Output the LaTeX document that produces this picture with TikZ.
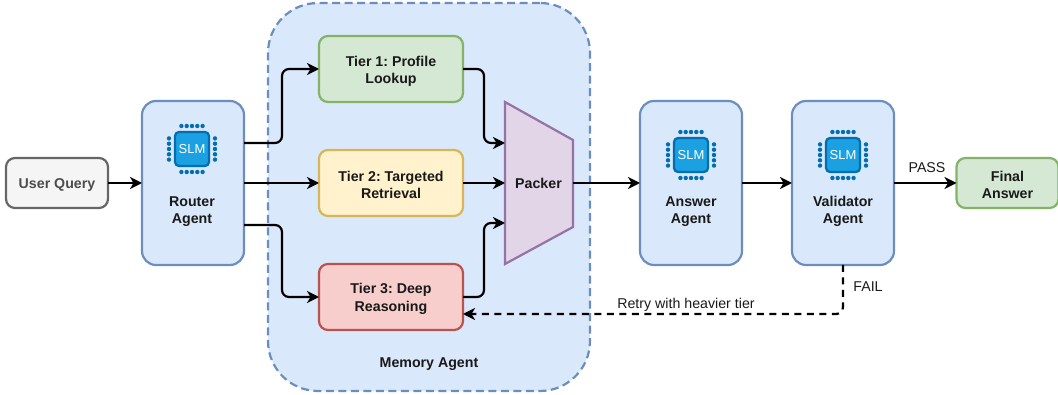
\documentclass[tikz,border=0pt]{standalone}
\usepackage{fontspec}
\setmainfont{Liberation Sans}
\usetikzlibrary{arrows.meta}
\definecolor{blueF}{HTML}{DAE8FC}\definecolor{blueD}{HTML}{6C8EBF}
\definecolor{greenF}{HTML}{D5E8D4}\definecolor{greenD}{HTML}{82B366}
\definecolor{yelF}{HTML}{FFF2CC}\definecolor{yelD}{HTML}{D6B656}
\definecolor{redF}{HTML}{F8CECC}\definecolor{redD}{HTML}{B85450}
\definecolor{purF}{HTML}{E1D5E7}\definecolor{purD}{HTML}{9673A6}
\definecolor{grayF}{HTML}{F5F5F5}\definecolor{grayD}{HTML}{666666}
\definecolor{chipF}{HTML}{1BA1E2}\definecolor{chipD}{HTML}{006EAF}
\tikzset{
  x=1pt,y=-1pt,
  boxbase/.style={draw,line width=2.2pt,rounded corners=9pt,inner sep=0pt,outer sep=0pt},
  agent/.style={boxbase,fill=blueF,draw=blueD,minimum width=102pt,minimum height=164pt,rounded corners=14pt},
  tier/.style={boxbase,minimum width=144pt,minimum height=66pt},
  endbox/.style={boxbase,minimum width=102pt,minimum height=50pt},
  lbl/.style={font=\fontsize{14.2}{17.5}\selectfont\bfseries\frenchspacing,align=center,text=black!90,inner sep=0pt},
  note/.style={font=\fontsize{14.2}{16}\selectfont,text=black!90,inner sep=0pt},
  conn/.style={line width=2.2pt,black,rounded corners=7pt,-{Stealth[length=12pt,width=12pt,inset=3.5pt]}},
  dconn/.style={conn,dash pattern=on 7pt off 5.5pt},
}
\newcommand{\slmchip}[2]{%
  \begin{scope}[shift={(#1,#2)}]
    \foreach \t in {-10.6,-5.3,0,5.3,10.6}{
      \fill[chipD] (\t,-23) circle (2.2pt);
      \fill[chipD] (\t,23) circle (2.2pt);
      \fill[chipD] (-23,\t) circle (2.2pt);
      \fill[chipD] (23,\t) circle (2.2pt);
    }
    \draw[chipD,fill=chipF,line width=2.2pt,rounded corners=4pt] (-17,-17) rectangle (17,17);
    \node[white,inner sep=0pt,font=\fontsize{13}{15}\selectfont] at (0,0) {SLM};
  \end{scope}}
\begin{document}
\begin{tikzpicture}
\useasboundingbox (0,0) rectangle (1058,395);
\node[draw=blueD,fill=blueF,line width=2.2pt,dash pattern=on 8pt off 4.5pt,rounded corners=50pt,
  minimum width=322pt,minimum height=388pt,inner sep=0pt,outer sep=0pt] (memory) at (429,197) {};
\node[lbl] (memlabel) at (429,364) {Memory Agent};

\node[endbox,fill=grayF,draw=grayD] (query) at (57,183) {};
\node[lbl,text=black!70] (querylabel) at (57,185) {User Query};
\node[agent] (router) at (193,183) {};
\node[agent] (answer) at (691,183) {};
\node[agent] (validator) at (843,183) {};
\node[endbox,fill=greenF,draw=greenD] (final) at (1007.5,183) {};
\node[lbl] (finallabel) at (1007.5,185) {Final\\Answer};

\slmchip{192}{149}
\slmchip{691}{155}
\slmchip{843}{155}
\node[lbl] (routerlabel) at (192,211.5) {Router\\Agent};
\node[lbl] (answerlabel) at (691,211.5) {Answer\\Agent};
\node[lbl] (validatorlabel) at (843,211.5) {Validator\\Agent};

\node[tier,fill=greenF,draw=greenD] (t1) at (391,69) {};
\node[tier,fill=yelF,draw=yelD] (t2) at (391,183) {};
\node[tier,fill=redF,draw=redD] (t3) at (391,297) {};
\node[lbl] (t1label) at (391,71.5) {Tier 1: Profile\\Lookup};
\node[lbl] (t2label) at (391,185) {Tier 2: Targeted\\Retrieval};
\node[lbl] (t3label) at (391,299) {Tier 3: Deep\\Reasoning};

\node[minimum width=68pt,minimum height=162pt,inner sep=0pt,outer sep=0pt] (packer) at (539,183) {};
\draw[purD,fill=purF,line width=2.2pt,line join=miter]
  (packer.north west) -- ([yshift=-38pt]packer.north east) -- ([yshift=37pt]packer.south east)
  -- (packer.south west) -- cycle;
\node[lbl] (packerlabel) at (538.5,183) {Packer};

\coordinate (r1) at (244,143);
\coordinate (r3) at (244,225);
\coordinate (p1) at (505,143);
\coordinate (p3) at (505,223);
\coordinate (dashturn) at (843,314);
\coordinate (t3in) at (463,314);
\draw[conn] (query.east) -- (router.west);
\draw[conn] (r1) -- (282,143) -- (282,69) -- (t1.west);
\draw[conn] (router.east) -- (t2.west);
\draw[conn] (r3) -- (282,225) -- (282,297) -- (t3.west);
\draw[conn] (t1.east) -- (484,69) -- (484,143) -- (p1);
\draw[conn] (t2.east) -- (packer.west);
\draw[conn] (t3.east) -- (484,297) -- (484,223) -- (p3);
\draw[conn] (packer.east) -- (answer.west);
\draw[conn] (answer.east) -- (validator.west);
\draw[conn] (validator.east) -- (final.west);
\draw[dconn] (validator.south) -- (dashturn) -- (t3in);

\node[note] (pass) at (927,168) {PASS};
\node[note] (fail) at (868,287) {FAIL};
\node[note] (retry) at (686,304.5) {Retry with heavier tier};
\end{tikzpicture}
\end{document}
